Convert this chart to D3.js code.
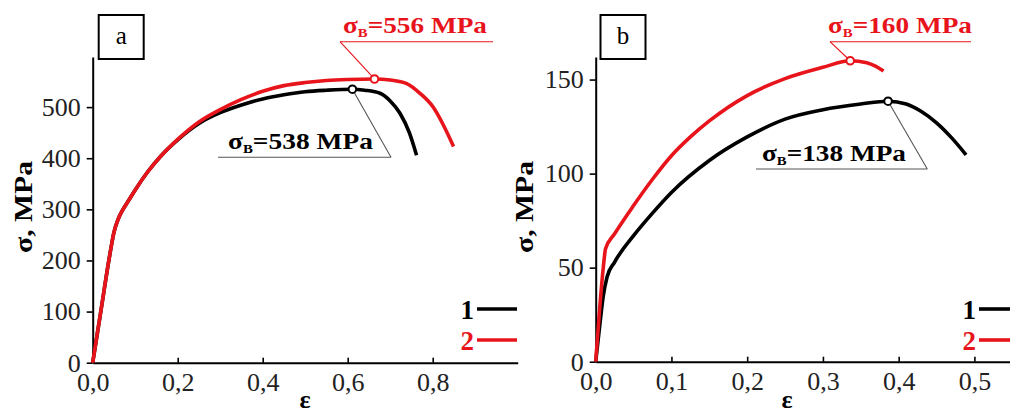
<!DOCTYPE html>
<html><head><meta charset="utf-8">
<script src="https://cdn.jsdelivr.net/npm/d3@7"></script>
<style>
body{margin:0;background:#fff;}
svg{display:block;font-family:"Liberation Serif","Times New Roman",serif;}
</style></head>
<body><svg id="c" width="1010" height="413"></svg>
<script>
// ---------- data ----------
const strainA1 = [0,0.02,0.04,0.05,0.06,0.07,0.085,0.1,0.13,0.16,0.2,0.25,0.3,0.35,0.4,0.45,0.5,0.55,0.611,0.64,0.676,0.7,0.723,0.745,0.762];
const stressA1 = [0,105,210,255,281,298,318,338,374,404,436,468,489,504,516,524,530,533,535,533,527,512,488,450,406];
const strainA2 = [0,0.02,0.04,0.05,0.06,0.07,0.085,0.1,0.13,0.16,0.2,0.25,0.3,0.35,0.4,0.45,0.5,0.55,0.6,0.663,0.7,0.739,0.77,0.801,0.825,0.849];
const stressA2 = [0,105,210,255,281,298,318,338,374,404,437,471,495,515,531,542,548,552,554,555,553,546,527,500,465,423];
const strainB1 = [0,0.005,0.01,0.015,0.025,0.05,0.075,0.1,0.15,0.2,0.25,0.3,0.35,0.386,0.41,0.43,0.45,0.47,0.489];
const stressB1 = [0,18,35,45,53,67,79,90,107,119.5,129,134,137,138.5,137,133,127,119,110];
const strainB2 = [0,0.005,0.01,0.013,0.025,0.05,0.075,0.1,0.125,0.15,0.2,0.25,0.3,0.336,0.358,0.37,0.38];
const stressB2 = [0,27,50,60,68,83,97,109.5,119.5,128,141.5,150.5,156.5,160,159,157,154.5];

const ticksXA = [0,0.2,0.4,0.6,0.8];
const ticksYA = [0,100,200,300,400,500];
const ticksXB = [0,0.1,0.2,0.3,0.4,0.5];
const ticksYB = [0,50,100,150];

const peakA = [{e:0.611,s:535,label:"538",series:1},{e:0.663,s:555,label:"556",series:2}];
const peakB = [{e:0.386,s:138.5,label:"138",series:1},{e:0.336,s:160,label:"160",series:2}];
const legendLabels = ["1","2"];
const panelLetters = ["a","b"];

// ---------- drawing ----------
const RED = "#e8141b", BLACK = "#000";
const SERIF = "'Liberation Serif','Times New Roman',serif";
const svg = d3.select("#c");
const fmt = d => d3.format(".1f")(d).replace(".", ",");

function panel(cfg){
  const g = svg.append("g");
  const x = d3.scaleLinear().domain(cfg.xDomain).range(cfg.xRange);
  const y = d3.scaleLinear().domain(cfg.yDomain).range(cfg.yRange);

  // axes
  const ax = g.append("g").attr("transform",`translate(0,${cfg.yRange[0]})`)
    .call(d3.axisBottom(x).tickValues(cfg.ticksX).tickFormat(fmt).tickSizeInner(-5).tickSizeOuter(0));
  ax.selectAll("text").attr("y",10).attr("dy","0.71em");
  const ay = g.append("g").attr("transform",`translate(${cfg.xRange[0]},0)`)
    .call(d3.axisLeft(y).tickValues(cfg.ticksY).tickSizeInner(6).tickSizeOuter(0).tickPadding(6));
  [ax,ay].forEach(a=>{
    a.attr("font-family",SERIF).attr("font-size",26);
    a.selectAll("path.domain").attr("stroke","#000").attr("stroke-width",2);
    a.selectAll(".tick line").attr("stroke","#000").attr("stroke-width",1.6);
    a.selectAll("text").attr("font-size",26).attr("fill","#222").attr("font-family",SERIF);
  });

  // axis titles
  g.append("text").attr("transform",`translate(${cfg.yLabelX},207) rotate(-90)`)
    .attr("text-anchor","middle").attr("font-weight","bold").attr("font-size",26)
    .attr("textLength",92).attr("lengthAdjust","spacingAndGlyphs")
    .text("σ, MPa");
  g.append("text").attr("x",cfg.epsX).attr("y",408).attr("text-anchor","middle")
    .attr("font-weight","bold").attr("font-size",26).text("ε");

  // curves
  const line = d3.line().x(d=>x(d[0])).y(d=>y(d[1])).curve(d3.curveMonotoneX);
  const series = [
    {e:cfg.s1e, s:cfg.s1s, c:BLACK},
    {e:cfg.s2e, s:cfg.s2s, c:RED}
  ];
  series.forEach(sr=>{
    g.append("path").datum(d3.zip(sr.e, sr.s)).attr("d",line)
      .attr("fill","none").attr("stroke",sr.c).attr("stroke-width",3.6)
      .attr("stroke-linejoin","round").attr("stroke-linecap","butt");
  });

  // annotations
  cfg.peaks.forEach((p,i)=>{
    const col = p.series===2 ? RED : BLACK;
    const lineCol = p.series===2 ? RED : "#555";
    const a = cfg.ann[i];
    const px = x(p.e), py = y(p.s);
    g.append("line").attr("x1",a.ux1).attr("x2",a.ux2).attr("y1",a.uy).attr("y2",a.uy)
      .attr("stroke",lineCol).attr("stroke-width",1.1);
    g.append("line").attr("x1",a.lx).attr("y1",a.uy).attr("x2",px).attr("y2",py)
      .attr("stroke",lineCol).attr("stroke-width",1.1);
    const t = g.append("text").attr("font-weight","bold").attr("font-size",24).attr("fill",col);
    t.append("tspan").text("σ");
    t.append("tspan").attr("font-size",13).attr("dy",4).text("B");
    t.append("tspan").attr("dy",-4).text("=" + p.label + " MPa");
    const w = t.node().getComputedTextLength();
    t.attr("transform",`translate(${a.tx},${a.ty}) scale(${a.tw/w},1)`);
    g.append("circle").attr("cx",px).attr("cy",py).attr("r",3.8)
      .attr("fill","#fff").attr("stroke",col).attr("stroke-width",2);
  });

  // legend
  legendLabels.forEach((lab,i)=>{
    const col = i===0 ? BLACK : RED;
    const ly = 309 + i*31;
    g.append("text").attr("x",cfg.legX).attr("y",ly+10).attr("text-anchor","end")
      .attr("font-weight","bold").attr("font-size",27).attr("fill",col).text(lab);
    g.append("line").attr("x1",cfg.legX+3).attr("x2",cfg.legX2).attr("y1",ly).attr("y2",ly)
      .attr("stroke",col).attr("stroke-width",3.6);
  });

  // panel letter box
  g.append("rect").attr("x",cfg.boxX).attr("y",15).attr("width",45).attr("height",44)
    .attr("fill","#fff").attr("stroke","#000").attr("stroke-width",2);
  g.append("text").attr("x",cfg.boxX+22.5).attr("y",44).attr("text-anchor","middle")
    .attr("font-size",25).text(cfg.letter);
}

panel({
  xDomain:[0,1], xRange:[92.7,517.7], yDomain:[0,598], yRange:[362.7,57],
  ticksX:ticksXA, ticksY:ticksYA, s1e:strainA1, s1s:stressA1, s2e:strainA2, s2s:stressA2,
  peaks:peakA,
  ann:[{ux1:218,ux2:391,uy:157.3,lx:391,tx:228,ty:149,tw:145},
       {ux1:340,ux2:493,uy:41.7,lx:340,tx:343,ty:33,tw:144}],
  yLabelX:32, epsX:305, legX:474, legX2:517, boxX:98.7, letter:panelLetters[0]
});
panel({
  xDomain:[0,0.547], xRange:[595.7,1010], yDomain:[0,162], yRange:[361.7,57],
  ticksX:ticksXB, ticksY:ticksYB, s1e:strainB1, s1s:stressB1, s2e:strainB2, s2s:stressB2,
  peaks:peakB,
  ann:[{ux1:756,ux2:927.3,uy:169,lx:927.3,tx:762,ty:161,tw:144},
       {ux1:830,ux2:971,uy:41.7,lx:830,tx:828,ty:33,tw:144}],
  yLabelX:533, epsX:787, legX:976, legX2:1010, boxX:600.5, letter:panelLetters[1]
});
</script></body></html>
